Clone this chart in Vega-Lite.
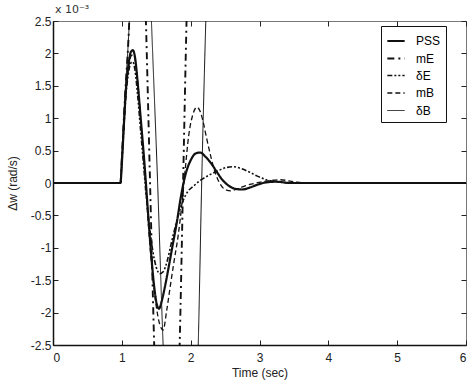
{
  "$schema": "https://vega.github.io/schema/vega-lite/v6.json",
  "autosize": {"type": "none"},
  "padding": {"left": 53, "top": 21, "right": 8, "bottom": 45},
  "width": 413,
  "height": 324,
  "background": "white",
  "config": {
    "font": "Liberation Sans",
    "view": {"stroke": "#777", "strokeWidth": 1},
    "axis": {"grid": false, "labelFont": "Liberation Sans", "titleFont": "Liberation Sans", "labelColor": "#222", "titleColor": "#222", "labelFontSize": 12, "titleFontSize": 12, "titleFontWeight": "normal", "tickColor": "#222"}
  },
  "title": {"text": "x 10⁻³", "anchor": "start", "frame": "group", "fontSize": 11, "fontWeight": "normal", "color": "#333", "offset": 0, "dx": 2, "font": "DejaVu Sans"},
  "data": {"values": [
    {"t":0,"v":0,"s":"PSS"},{"t":0.98,"v":0,"s":"PSS"},{"t":1.0,"v":0.3,"s":"PSS"},{"t":1.03,"v":0.9,"s":"PSS"},{"t":1.06,"v":1.45,"s":"PSS"},{"t":1.1,"v":1.85,"s":"PSS"},{"t":1.13,"v":2.02,"s":"PSS"},{"t":1.16,"v":2.05,"s":"PSS"},{"t":1.19,"v":1.95,"s":"PSS"},{"t":1.23,"v":1.55,"s":"PSS"},{"t":1.27,"v":1.05,"s":"PSS"},{"t":1.31,"v":0.55,"s":"PSS"},{"t":1.35,"v":0.0,"s":"PSS"},{"t":1.39,"v":-0.6,"s":"PSS"},{"t":1.43,"v":-1.15,"s":"PSS"},{"t":1.47,"v":-1.6,"s":"PSS"},{"t":1.51,"v":-1.88,"s":"PSS"},{"t":1.54,"v":-1.94,"s":"PSS"},{"t":1.58,"v":-1.82,"s":"PSS"},{"t":1.63,"v":-1.58,"s":"PSS"},{"t":1.68,"v":-1.3,"s":"PSS"},{"t":1.74,"v":-0.95,"s":"PSS"},{"t":1.8,"v":-0.6,"s":"PSS"},{"t":1.86,"v":-0.2,"s":"PSS"},{"t":1.93,"v":0.15,"s":"PSS"},{"t":2.0,"v":0.35,"s":"PSS"},{"t":2.08,"v":0.46,"s":"PSS"},{"t":2.14,"v":0.47,"s":"PSS"},{"t":2.22,"v":0.4,"s":"PSS"},{"t":2.3,"v":0.3,"s":"PSS"},{"t":2.38,"v":0.17,"s":"PSS"},{"t":2.46,"v":0.05,"s":"PSS"},{"t":2.55,"v":-0.04,"s":"PSS"},{"t":2.65,"v":-0.09,"s":"PSS"},{"t":2.75,"v":-0.1,"s":"PSS"},{"t":2.86,"v":-0.07,"s":"PSS"},{"t":2.96,"v":-0.03,"s":"PSS"},{"t":3.1,"v":0.01,"s":"PSS"},{"t":3.25,"v":0.02,"s":"PSS"},{"t":3.45,"v":0.0,"s":"PSS"},{"t":6,"v":0,"s":"PSS"},

    {"t":0,"v":0,"s":"mE"},{"t":0.98,"v":0,"s":"mE"},{"t":1.0,"v":0.4,"s":"mE"},{"t":1.05,"v":1.4,"s":"mE"},{"t":1.1,"v":2.3,"s":"mE"},{"t":1.15,"v":3.8,"s":"mE"},{"t":1.2,"v":5.0,"s":"mE"},{"t":1.25,"v":5.2,"s":"mE"},{"t":1.3,"v":4.4,"s":"mE"},{"t":1.35,"v":2.5,"s":"mE"},{"t":1.41,"v":0,"s":"mE"},{"t":1.47,"v":-2.5,"s":"mE"},{"t":1.53,"v":-4.6,"s":"mE"},{"t":1.6,"v":-6.0,"s":"mE"},{"t":1.66,"v":-6.3,"s":"mE"},{"t":1.73,"v":-5.6,"s":"mE"},{"t":1.79,"v":-4.3,"s":"mE"},{"t":1.84,"v":-2.5,"s":"mE"},{"t":1.89,"v":0,"s":"mE"},{"t":1.94,"v":2.5,"s":"mE"},{"t":2.0,"v":4.8,"s":"mE"},{"t":2.08,"v":6.5,"s":"mE"},{"t":2.15,"v":7.2,"s":"mE"},

    {"t":0,"v":0,"s":"δE"},{"t":0.98,"v":0,"s":"δE"},{"t":1.0,"v":0.3,"s":"δE"},{"t":1.03,"v":0.85,"s":"δE"},{"t":1.06,"v":1.35,"s":"δE"},{"t":1.1,"v":1.72,"s":"δE"},{"t":1.13,"v":1.85,"s":"δE"},{"t":1.16,"v":1.87,"s":"δE"},{"t":1.19,"v":1.75,"s":"δE"},{"t":1.23,"v":1.35,"s":"δE"},{"t":1.27,"v":0.85,"s":"δE"},{"t":1.31,"v":0.35,"s":"δE"},{"t":1.35,"v":-0.15,"s":"δE"},{"t":1.4,"v":-0.65,"s":"δE"},{"t":1.45,"v":-1.05,"s":"δE"},{"t":1.5,"v":-1.3,"s":"δE"},{"t":1.55,"v":-1.4,"s":"δE"},{"t":1.6,"v":-1.37,"s":"δE"},{"t":1.66,"v":-1.2,"s":"δE"},{"t":1.72,"v":-0.92,"s":"δE"},{"t":1.8,"v":-0.58,"s":"δE"},{"t":1.88,"v":-0.3,"s":"δE"},{"t":1.96,"v":-0.13,"s":"δE"},{"t":2.05,"v":-0.04,"s":"δE"},{"t":2.14,"v":0.04,"s":"δE"},{"t":2.23,"v":0.1,"s":"δE"},{"t":2.32,"v":0.15,"s":"δE"},{"t":2.42,"v":0.2,"s":"δE"},{"t":2.52,"v":0.24,"s":"δE"},{"t":2.62,"v":0.25,"s":"δE"},{"t":2.74,"v":0.22,"s":"δE"},{"t":2.85,"v":0.17,"s":"δE"},{"t":2.96,"v":0.11,"s":"δE"},{"t":3.1,"v":0.05,"s":"δE"},{"t":3.25,"v":0.02,"s":"δE"},{"t":3.45,"v":0.0,"s":"δE"},{"t":6,"v":0,"s":"δE"},

    {"t":0,"v":0,"s":"mB"},{"t":0.98,"v":0,"s":"mB"},{"t":1.0,"v":0.3,"s":"mB"},{"t":1.03,"v":0.9,"s":"mB"},{"t":1.06,"v":1.4,"s":"mB"},{"t":1.1,"v":1.8,"s":"mB"},{"t":1.14,"v":1.97,"s":"mB"},{"t":1.17,"v":1.98,"s":"mB"},{"t":1.2,"v":1.85,"s":"mB"},{"t":1.24,"v":1.45,"s":"mB"},{"t":1.28,"v":0.9,"s":"mB"},{"t":1.32,"v":0.35,"s":"mB"},{"t":1.36,"v":-0.25,"s":"mB"},{"t":1.4,"v":-0.85,"s":"mB"},{"t":1.45,"v":-1.45,"s":"mB"},{"t":1.5,"v":-1.9,"s":"mB"},{"t":1.55,"v":-2.18,"s":"mB"},{"t":1.6,"v":-2.27,"s":"mB"},{"t":1.65,"v":-1.98,"s":"mB"},{"t":1.7,"v":-1.62,"s":"mB"},{"t":1.76,"v":-1.2,"s":"mB"},{"t":1.82,"v":-0.8,"s":"mB"},{"t":1.87,"v":-0.35,"s":"mB"},{"t":1.92,"v":0.2,"s":"mB"},{"t":1.97,"v":0.72,"s":"mB"},{"t":2.03,"v":1.05,"s":"mB"},{"t":2.09,"v":1.17,"s":"mB"},{"t":2.14,"v":1.1,"s":"mB"},{"t":2.18,"v":0.95,"s":"mB"},{"t":2.23,"v":0.7,"s":"mB"},{"t":2.29,"v":0.42,"s":"mB"},{"t":2.35,"v":0.18,"s":"mB"},{"t":2.42,"v":0.0,"s":"mB"},{"t":2.5,"v":-0.1,"s":"mB"},{"t":2.58,"v":-0.12,"s":"mB"},{"t":2.68,"v":-0.09,"s":"mB"},{"t":2.8,"v":-0.04,"s":"mB"},{"t":2.95,"v":0.0,"s":"mB"},{"t":3.1,"v":0.03,"s":"mB"},{"t":3.3,"v":0.05,"s":"mB"},{"t":3.5,"v":0.02,"s":"mB"},{"t":3.7,"v":0.0,"s":"mB"},{"t":6,"v":0,"s":"mB"},

    {"t":0,"v":0,"s":"δB"},{"t":0.98,"v":0,"s":"δB"},{"t":1.0,"v":0.4,"s":"δB"},{"t":1.05,"v":1.4,"s":"δB"},{"t":1.1,"v":2.3,"s":"δB"},{"t":1.15,"v":3.5,"s":"δB"},{"t":1.22,"v":4.6,"s":"δB"},{"t":1.3,"v":4.9,"s":"δB"},{"t":1.37,"v":4.2,"s":"δB"},{"t":1.43,"v":2.5,"s":"δB"},{"t":1.52,"v":0,"s":"δB"},{"t":1.6,"v":-2.5,"s":"δB"},{"t":1.7,"v":-4.6,"s":"δB"},{"t":1.8,"v":-5.8,"s":"δB"},{"t":1.9,"v":-6.0,"s":"δB"},{"t":2.0,"v":-5.0,"s":"δB"},{"t":2.11,"v":-2.5,"s":"δB"},{"t":2.16,"v":0,"s":"δB"},{"t":2.22,"v":2.5,"s":"δB"},{"t":2.3,"v":5.0,"s":"δB"},{"t":2.4,"v":7.0,"s":"δB"}
  ]},
  "layer": [
    {
      "mark": {"type": "line", "clip": true, "interpolate": "monotone"},
      "encoding": {
        "x": {"field": "t", "type": "quantitative", "scale": {"domain": [0, 6], "nice": false},
          "axis": {"values": [0,1,2,3,4,5,6], "title": "Time (sec)", "tickSize": -5, "labelPadding": 12, "titlePadding": 4, "domainColor": "#111", "domainWidth": 1.5}},
        "y": {"field": "v", "type": "quantitative", "scale": {"domain": [-2.5, 2.5], "nice": false},
          "axis": {"values": [-2.5,-2,-1.5,-1,-0.5,0,0.5,1,1.5,2,2.5], "labelExpr": "'' + datum.value", "title": "Δw (rad/s)", "tickSize": -5, "labelPadding": 7, "titlePadding": 11, "domainColor": "#111", "domainWidth": 1.5}},
        "color": {"field": "s", "type": "nominal", "scale": {"domain": ["PSS","mE","δE","mB","δB"], "range": ["#111","#111","#111","#111","#111"]},
          "legend": {"title": null, "orient": "none", "legendX": 328, "legendY": 5, "fillColor": "white", "strokeColor": "#111", "padding": 5, "symbolType": "stroke", "symbolSize": 300, "symbolStrokeColor": "#111", "labelFontSize": 12, "rowPadding": 1.5, "labelOffset": 10}},
        "strokeDash": {"field": "s", "type": "nominal", "scale": {"domain": ["PSS","mE","δE","mB","δB"], "range": [[1,0],[7,4,2,4],[5,2,2,2,2,2],[5,3],[1,0]]},
          "legend": {"title": null, "orient": "none", "legendX": 328, "legendY": 5}},
        "strokeWidth": {"field": "s", "type": "nominal", "scale": {"domain": ["PSS","mE","δE","mB","δB"], "range": [2.2,1,1.6,1.6,1]},
          "legend": {"title": null, "orient": "none", "legendX": 328, "legendY": 5}}
      }
    },
    {
      "mark": {"type": "line", "opacity": 0, "clip": true},
      "encoding": {
        "x": {"field": "t", "type": "quantitative", "scale": {"domain": [0, 6], "nice": false},
          "axis": {"orient": "top", "values": [0,1,2,3,4,5,6], "labels": false, "title": null, "tickSize": -5, "domain": false}},
        "y": {"field": "v", "type": "quantitative", "scale": {"domain": [-2.5, 2.5], "nice": false},
          "axis": {"orient": "right", "values": [-2.5,-2,-1.5,-1,-0.5,0,0.5,1,1.5,2,2.5], "labels": false, "title": null, "tickSize": -5, "domain": false}}
      }
    }
  ],
  "resolve": {"axis": {"x": "independent", "y": "independent"}}
}
